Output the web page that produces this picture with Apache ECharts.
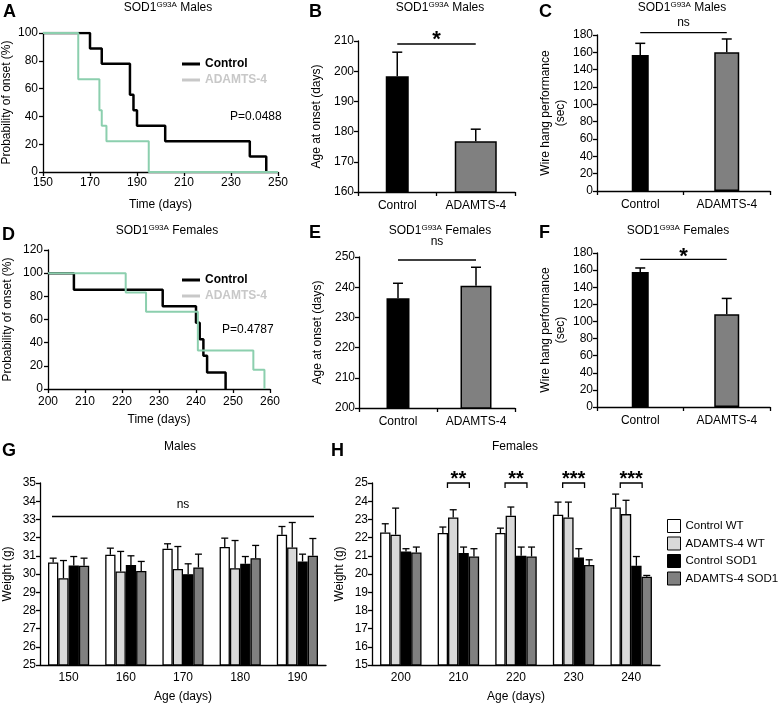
<!DOCTYPE html>
<html>
<head>
<meta charset="utf-8">
<title>ADAMTS-4 SOD1 figure</title>
<script src="https://cdn.jsdelivr.net/npm/echarts/dist/echarts.min.js"></script>
<style>
  html, body { margin: 0; padding: 0; background: #fff; }
  #main { width: 778px; height: 704px; }
</style>
</head>
<body>
<div id="main"></div>
<script>
// ---------- data ----------
var groups = ['Control', 'ADAMTS-4'];

// A: onset, males (Kaplan-Meier, [day, % without onset])
var kmMaleControl = [[150, 100], [170, 88.9], [175, 77.8], [187, 55.6], [188.5, 44.4], [190, 33.3], [202, 22.2], [238, 11.1], [245, 0]];
var kmMaleAdamts = [[150, 100], [165, 66.7], [174, 44.4], [175, 33.3], [177, 22.2], [195, 0], [250, 0]];
var pMale = 'P=0.0488';

// B: age at onset, males
var onsetMale = [198.3, 176.8];
var onsetMaleSem = [8.0, 4.0];
var sigLevelB = 209;

// C: wire hang, males
var wireMale = [157, 160];
var wireMaleSem = [13.4, 15.4];
var sigLevelC = 182.7;

// D: onset, females
var kmFemaleControl = [[200, 100], [207, 85.7], [231, 71.4], [240, 57.1], [241, 42.9], [242, 28.6], [243, 14.3], [248, 0]];
var kmFemaleAdamts = [[200, 100], [221, 83.3], [226.5, 66.7], [240.5, 33.3], [255.5, 16.7], [258.5, 0]];
var pFemale = 'P=0.4787';

// E: age at onset, females
var onsetFemale = [236.3, 240.5];
var onsetFemaleSem = [5.0, 6.1];
var sigLevelE = 249;

// F: wire hang, females
var wireFemale = [157.8, 108.3];
var wireFemaleSem = [4.7, 18.6];
var sigLevelF = 172.6;

// G: weight, males
var ageMale = ['150', '160', '170', '180', '190'];
var gCtrlWT = [30.63, 31.06, 31.39, 31.48, 32.16];
var gCtrlWTSem = [0.24, 0.36, 0.27, 0.49, 0.45];
var gAdamtsWT = [29.77, 30.14, 30.28, 30.32, 31.46];
var gAdamtsWTSem = [0.97, 1.10, 1.23, 1.52, 1.37];
var gCtrlSOD = [30.47, 30.50, 29.99, 30.56, 30.69];
var gCtrlSODSem = [0.49, 0.50, 0.57, 0.40, 0.40];
var gAdamtsSOD = [30.45, 30.17, 30.36, 30.87, 31.00];
var gAdamtsSODSem = [0.42, 0.52, 0.73, 0.70, 0.95];
var sigLevelG = 33.16;

// H: weight, females
var ageFemale = ['200', '210', '220', '230', '240'];
var hCtrlWT = [22.28, 22.25, 22.25, 23.26, 23.66];
var hCtrlWTSem = [0.48, 0.33, 0.27, 0.69, 0.73];
var hAdamtsWT = [22.16, 23.11, 23.20, 23.11, 23.29];
var hAdamtsWTSem = [1.46, 0.42, 0.48, 0.84, 0.76];
var hCtrlSOD = [21.24, 21.15, 21.00, 20.91, 20.45];
var hCtrlSODSem = [0.15, 0.33, 0.48, 0.48, 0.51];
var hAdamtsSOD = [21.18, 20.96, 20.96, 20.50, 19.85];
var hAdamtsSODSem = [0.30, 0.43, 0.52, 0.28, 0.07];
var bracketCatsH = [1, 2, 3, 4];
var bracketStarsH = ['**', '**', '***', '***'];
var bracketLevelH = 25;

var weightNames = ['Control WT', 'ADAMTS-4 WT', 'Control SOD1', 'ADAMTS-4 SOD1'];

// ---------- helpers ----------
var FONT = 'Arial, "Liberation Sans", Helvetica, sans-serif';
var GREEN = '#8ccfae';
var barColors = ['#000000', '#808080'];
var weightColors = ['#ffffff', '#d9d9d9', '#000000', '#808080'];

function axisBase(gridIndex) {
    return {
        gridIndex: gridIndex,
        axisLine: {show: true, onZero: false, lineStyle: {color: '#000', width: 1.3}},
        axisTick: {show: true, length: 4, lineStyle: {color: '#000', width: 1.3}},
        axisLabel: {color: '#000', fontSize: 12, fontFamily: FONT},
        splitLine: {show: false},
        nameLocation: 'middle',
        nameTextStyle: {color: '#000', fontSize: 12, fontFamily: FONT}
    };
}

function valueAxis(gridIndex, min, max, interval, name, nameGap, margin) {
    var a = axisBase(gridIndex);
    a.type = 'value';
    a.min = min;
    a.max = max;
    a.interval = interval;
    a.name = name;
    a.nameGap = nameGap;
    a.axisLabel.margin = margin;
    return a;
}

function categoryAxis(gridIndex, cats, name, nameGap, margin, ticks) {
    var a = axisBase(gridIndex);
    a.type = 'category';
    a.data = cats;
    a.name = name || '';
    a.nameGap = nameGap || 20;
    a.axisLabel.margin = margin;
    a.axisLabel.interval = 0;
    a.axisTick.show = ticks;
    return a;
}

function hiddenAxis(gridIndex, cats) {
    return {type: 'category', gridIndex: gridIndex, data: cats, show: false};
}

function supTitle(rest, cx, top) {
    return {
        text: '{a|SOD1}{s|G93A}{a| ' + rest + '}',
        left: cx, top: top, textAlign: 'center', padding: 0,
        textStyle: {
            fontWeight: 'normal',
            rich: {
                a: {fontSize: 12, fontWeight: 'normal', fontFamily: FONT, color: '#000', lineHeight: 14},
                s: {fontSize: 8, fontWeight: 'normal', fontFamily: FONT, color: '#000', lineHeight: 10, verticalAlign: 'top'}
            }
        }
    };
}

function plainTitle(text, cx, top) {
    return {
        text: text, left: cx, top: top, textAlign: 'center', padding: 0,
        textStyle: {fontSize: 12, fontWeight: 'normal', fontFamily: FONT, color: '#000'}
    };
}

function kmLine(idx, name, data, color, width) {
    return {
        type: 'line', name: name, xAxisIndex: idx, yAxisIndex: idx,
        data: data, step: 'end', showSymbol: false, symbol: 'none',
        lineStyle: {color: color, width: width}, itemStyle: {color: color}
    };
}

// one bar per category; each bar sits on its own x axis so it can keep its own width
function singleBar(xIdx, yIdx, values, k, width) {
    return {
        type: 'bar', name: 'bar' + xIdx + '_' + k, xAxisIndex: xIdx, yAxisIndex: yIdx, barWidth: width,
        data: values.map(function (v, i) { return i === k ? v : '-'; }),
        itemStyle: {color: barColors[k], borderColor: '#000', borderWidth: 1.5}
    };
}

function groupBars(idx, name, values, k) {
    return {
        type: 'bar', name: name, xAxisIndex: idx, yAxisIndex: idx,
        barWidth: '18%', barGap: '0%', data: values,
        itemStyle: {color: weightColors[k], borderColor: '#000', borderWidth: 1.3}
    };
}

function errorBars(idx, means, sems, offsetFrac, capHalf, lw) {
    return {
        type: 'custom', xAxisIndex: idx, yAxisIndex: idx, clip: false, z: 5,
        data: means.map(function (m, i) { return [i, m, m + sems[i]]; }),
        renderItem: function (params, api) {
            var band = api.size([1, 0])[0];
            var p0 = api.coord([api.value(0), api.value(1)]);
            var p1 = api.coord([api.value(0), api.value(2)]);
            var x = p0[0] + band * offsetFrac;
            var st = {stroke: '#000', lineWidth: lw};
            return {
                type: 'group', children: [
                    {type: 'line', shape: {x1: x, y1: p0[1], x2: x, y2: p1[1]}, style: st},
                    {type: 'line', shape: {x1: x - capHalf, y1: p1[1], x2: x + capHalf, y2: p1[1]}, style: st}
                ]
            };
        }
    };
}

// horizontal significance line between two categories, text above
function sigLine(idx, fromCat, toCat, level, text, font, textOffset, extendFrac) {
    return {
        type: 'custom', xAxisIndex: idx, yAxisIndex: idx, clip: false, z: 6,
        data: [[fromCat, level, toCat]],
        renderItem: function (params, api) {
            var band = api.size([1, 0])[0];
            var a = api.coord([api.value(0), api.value(1)]);
            var b = api.coord([api.value(2), api.value(1)]);
            var x1 = a[0] - band * extendFrac;
            var x2 = b[0] + band * extendFrac;
            return {
                type: 'group', children: [
                    {type: 'line', shape: {x1: x1, y1: a[1], x2: x2, y2: a[1]}, style: {stroke: '#000', lineWidth: 1.3}},
                    {type: 'text', x: (x1 + x2) / 2, y: a[1] - textOffset,
                        style: {text: text, font: font, fill: '#000', align: 'center', verticalAlign: 'middle'}}
                ]
            };
        }
    };
}

// small brackets over single age groups (panel H)
function groupBrackets(idx, cats, level, labels, halfFrac) {
    return {
        type: 'custom', xAxisIndex: idx, yAxisIndex: idx, clip: false, z: 6,
        data: cats.map(function (c) { return [c, level]; }),
        renderItem: function (params, api) {
            var band = api.size([1, 0])[0];
            var p = api.coord([api.value(0), api.value(1)]);
            var x1 = p[0] - band * halfFrac, x2 = p[0] + band * halfFrac;
            return {
                type: 'group', children: [
                    {type: 'polyline', shape: {points: [[x1, p[1] + 5], [x1, p[1]], [x2, p[1]], [x2, p[1] + 5]]},
                        style: {stroke: '#000', lineWidth: 1.3, fill: null}},
                    {type: 'text', x: p[0], y: p[1] - 4,
                        style: {text: labels[params.dataIndex], font: 'bold 20px ' + FONT, fill: '#000',
                            align: 'center', verticalAlign: 'middle'}}
                ]
            };
        }
    };
}

function letter(t, x, y) {
    return {type: 'text', x: x, y: y, style: {text: t, font: 'bold 18px ' + FONT, fill: '#000', verticalAlign: 'middle'}};
}

function note(t, x, y) {
    return {type: 'text', x: x, y: y, style: {text: t, font: '12px ' + FONT, fill: '#000', verticalAlign: 'middle'}};
}

// ---------- layout ----------
var grids = [
    {left: 43, top: 33, width: 235, height: 139},   // A
    {left: 358, top: 41, width: 157, height: 151},  // B
    {left: 597, top: 35, width: 173, height: 156},  // C
    {left: 48, top: 250, width: 222, height: 139},  // D
    {left: 359, top: 257, width: 156, height: 151}, // E
    {left: 597, top: 253, width: 173, height: 154}, // F
    {left: 40, top: 483, width: 286, height: 182},  // G
    {left: 372, top: 483, width: 288, height: 182}  // H
];

var xAxes = [
    valueAxis(0, 150, 250, 20, 'Time (days)', 27, 5),
    categoryAxis(1, groups, '', 0, 8, true),
    categoryAxis(2, groups, '', 0, 8, true),
    valueAxis(3, 200, 260, 10, 'Time (days)', 25, 7),
    categoryAxis(4, groups, '', 0, 8, true),
    categoryAxis(5, groups, '', 0, 8, true),
    categoryAxis(6, ageMale, 'Age (days)', 26, 7, false),
    categoryAxis(7, ageFemale, 'Age (days)', 26, 7, false),
    hiddenAxis(1, groups),   // 8: second bar of B
    hiddenAxis(2, groups),   // 9: C
    hiddenAxis(4, groups),   // 10: E
    hiddenAxis(5, groups)    // 11: F
];

var yAxes = [
    valueAxis(0, 0, 100, 20, 'Probability of onset (%)', 30, 5),
    valueAxis(1, 160, 210, 10, 'Age at onset (days)', 35, 4),
    valueAxis(2, 0, 180, 20, 'Wire hang performance\n(sec)', 29, 4),
    valueAxis(3, 0, 120, 20, 'Probability of onset (%)', 34, 5),
    valueAxis(4, 200, 250, 10, 'Age at onset (days)', 35, 4),
    valueAxis(5, 0, 180, 20, 'Wire hang performance\n(sec)', 29, 4),
    valueAxis(6, 25, 35, 1, 'Weight (g)', 26, 4),
    valueAxis(7, 15, 25, 1, 'Weight (g)', 26, 4)
];
yAxes[2].nameTextStyle.lineHeight = 15;
yAxes[5].nameTextStyle.lineHeight = 15;

var offsets = [-1.5, -0.5, 0.5, 1.5];
var gSets = [[gCtrlWT, gCtrlWTSem], [gAdamtsWT, gAdamtsWTSem], [gCtrlSOD, gCtrlSODSem], [gAdamtsSOD, gAdamtsSODSem]];
var hSets = [[hCtrlWT, hCtrlWTSem], [hAdamtsWT, hAdamtsWTSem], [hCtrlSOD, hCtrlSODSem], [hAdamtsSOD, hAdamtsSODSem]];

var series = [
    kmLine(0, 'Control', kmMaleControl, '#000', 2.5),
    kmLine(0, 'ADAMTS-4', kmMaleAdamts, GREEN, 2),
    kmLine(3, 'Control', kmFemaleControl, '#000', 2.5),
    kmLine(3, 'ADAMTS-4', kmFemaleAdamts, GREEN, 2),

    singleBar(1, 1, onsetMale, 0, 23),
    singleBar(8, 1, onsetMale, 1, 42),
    errorBars(1, onsetMale, onsetMaleSem, 0, 5, 1.5),
    sigLine(1, 0, 1, sigLevelB, '*', 'bold 22px ' + FONT, 4, 0),

    singleBar(2, 2, wireMale, 0, 17),
    singleBar(9, 2, wireMale, 1, 25),
    errorBars(2, wireMale, wireMaleSem, 0, 5, 1.5),
    sigLine(2, 0, 1, sigLevelC, 'ns', '12px ' + FONT, 10, 0),

    singleBar(4, 4, onsetFemale, 0, 23),
    singleBar(10, 4, onsetFemale, 1, 31),
    errorBars(4, onsetFemale, onsetFemaleSem, 0, 5, 1.5),
    sigLine(4, 0, 1, sigLevelE, 'ns', '12px ' + FONT, 18, 0),

    singleBar(5, 5, wireFemale, 0, 17),
    singleBar(11, 5, wireFemale, 1, 25),
    errorBars(5, wireFemale, wireFemaleSem, 0, 5, 1.5),
    sigLine(5, 0, 1, sigLevelF, '*', 'bold 22px ' + FONT, 2, 0),

    sigLine(6, 0, 4, sigLevelG, 'ns', '12px ' + FONT, 12, 0.29),
    groupBrackets(7, bracketCatsH, bracketLevelH, bracketStarsH, 0.19)
];

gSets.forEach(function (s, k) {
    series.push(groupBars(6, weightNames[k], s[0], k));
    series.push(errorBars(6, s[0], s[1], offsets[k] * 0.18, 3.5, 1.3));
});
hSets.forEach(function (s, k) {
    series.push(groupBars(7, weightNames[k], s[0], k));
    series.push(errorBars(7, s[0], s[1], offsets[k] * 0.18, 3.5, 1.3));
});

function kmLegend(top) {
    return {
        left: 177, top: top, orient: 'vertical', icon: 'rect',
        itemWidth: 18, itemHeight: 3, itemGap: 4, selectedMode: false,
        textStyle: {fontSize: 12, fontWeight: 'bold', fontFamily: FONT, color: '#000'},
        data: [
            {name: 'Control', itemStyle: {color: '#000'}},
            {name: 'ADAMTS-4', itemStyle: {color: '#c8c8c8'}, textStyle: {color: '#c8c8c8'}}
        ]
    };
}

var option = {
    animation: false,
    backgroundColor: '#fff',
    title: [
        supTitle('Males', 168, 1),
        supTitle('Males', 440, 1),
        supTitle('Males', 682, 1),
        supTitle('Females', 167, 224),
        supTitle('Females', 440, 224),
        supTitle('Females', 678, 224),
        plainTitle('Males', 180, 441),
        plainTitle('Females', 515, 441)
    ],
    legend: [
        kmLegend(53),
        kmLegend(269),
        {
            left: 662, top: 514, orient: 'vertical', icon: 'rect',
            itemWidth: 13, itemHeight: 13, itemGap: 3.5, selectedMode: false,
            itemStyle: {borderColor: '#000', borderWidth: 1},
            textStyle: {fontSize: 11.5, fontFamily: FONT, color: '#000'},
            data: weightNames
        }
    ],
    grid: grids,
    xAxis: xAxes,
    yAxis: yAxes,
    series: series,
    graphic: [
        letter('A', 3, 12), letter('B', 309, 12), letter('C', 539, 12),
        letter('D', 2, 235), letter('E', 309, 233), letter('F', 539, 233),
        letter('G', 2, 451), letter('H', 331, 451),
        note(pMale, 230, 117), note(pFemale, 222, 330)
    ]
};

var chart = echarts.init(document.getElementById('main'));
chart.setOption(option);
window.onresize = chart.resize;
</script>
</body>
</html>
